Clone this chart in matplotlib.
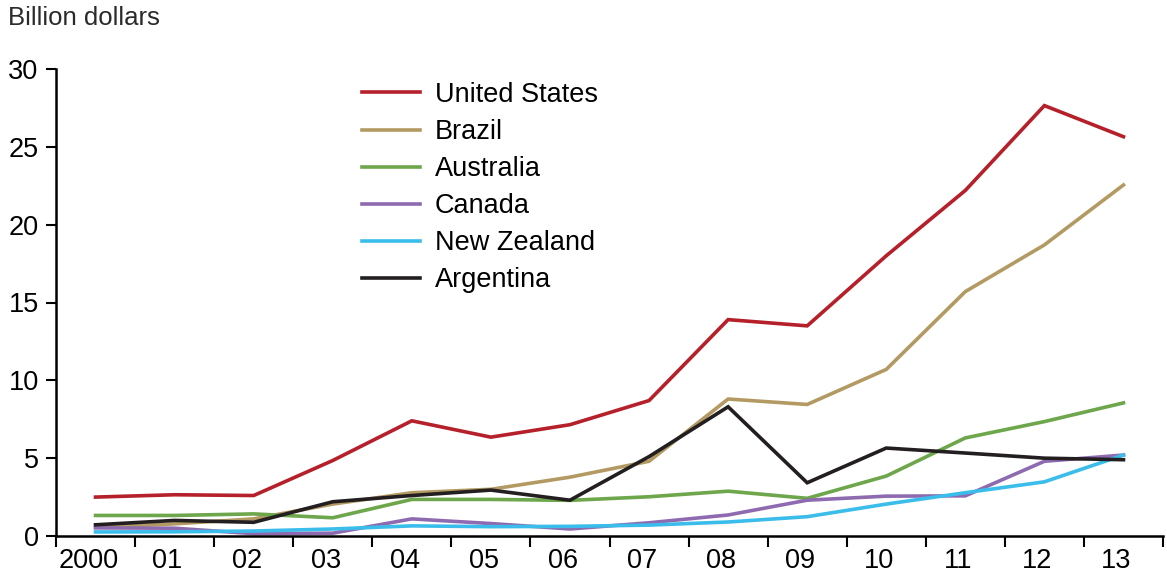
import matplotlib
matplotlib.use("Agg")
import matplotlib.pyplot as plt
import matplotlib.transforms as mtransforms
import numpy as np

years = ["2000", "01", "02", "03", "04", "05", "06", "07", "08", "09", "10", "11", "12", "13"]
united_states = [2.5, 2.65, 2.6, 4.85, 7.4, 6.35, 7.15, 8.7, 13.9, 13.5, 18.0, 22.2, 27.65, 25.65]
brazil = [0.55, 0.78, 1.1, 2.05, 2.78, 3.0, 3.78, 4.8, 8.8, 8.45, 10.7, 15.7, 18.7, 22.55]
australia = [1.32, 1.32, 1.42, 1.17, 2.35, 2.35, 2.29, 2.52, 2.88, 2.42, 3.85, 6.3, 7.35, 8.55]
canada = [0.52, 0.5, 0.15, 0.18, 1.1, 0.8, 0.45, 0.85, 1.35, 2.3, 2.56, 2.58, 4.8, 5.2]
new_zealand = [0.26, 0.27, 0.32, 0.45, 0.65, 0.6, 0.62, 0.7, 0.9, 1.24, 2.05, 2.78, 3.48, 5.2]
argentina = [0.72, 1.0, 0.88, 2.2, 2.6, 2.95, 2.3, 5.1, 8.3, 3.42, 5.65, 5.33, 5.0, 4.9]

series = [
    ("United States", united_states, "#B5202A"),
    ("Brazil", brazil, "#B39A62"),
    ("Australia", australia, "#6DA64B"),
    ("Canada", canada, "#8E6BB0"),
    ("New Zealand", new_zealand, "#3BBDEB"),
    ("Argentina", argentina, "#231F20"),
]

plt.rcParams['font.family'] = ['Liberation Sans', 'DejaVu Sans']
FS = 19.5

fig = plt.figure(figsize=(11.67, 5.77), dpi=100)
ax = fig.add_axes([56/1167, 1-536/577, (1163-56)/1167, (536-69)/577])

x = np.arange(len(years))
for name, vals, col in series:
    ax.plot(x, vals, color=col, lw=2.6, label=name, solid_joinstyle='miter')

ax.set_xlim(-0.5, len(years) - 0.5)
ax.set_ylim(0, 30)
ax.set_yticks([0, 5, 10, 15, 20, 25, 30])
ax.tick_params(axis='y', direction='out', length=7.5, width=1.5, labelsize=FS, pad=5)

ax.set_xticks(x)
ax.set_xticklabels(years)
ax.set_xticks(np.arange(-0.5, len(years), 1), minor=True)
ax.tick_params(axis='x', which='major', length=0, labelsize=FS, pad=9)
ax.tick_params(axis='x', which='minor', direction='out', length=8, width=1.5)
shift = mtransforms.ScaledTranslation(-7/100, 0, fig.dpi_scale_trans)
for lab in ax.get_xticklabels():
    lab.set_transform(lab.get_transform() + shift)

for s in ['top', 'right']:
    ax.spines[s].set_visible(False)
for s in ['left', 'bottom']:
    ax.spines[s].set_linewidth(1.8)

fig.text(8/1167, 1-18/577, "Billion dollars", fontsize=18.5, color='#2a2a2a',
         ha='left', va='center')

leg = ax.legend(loc='upper left', bbox_to_anchor=(0.2665, 0.9955), frameon=False,
                fontsize=FS, handlelength=2.15, handletextpad=0.55,
                labelspacing=0.41, borderaxespad=0, borderpad=0.4)

fig.savefig("out.png", dpi=100)
